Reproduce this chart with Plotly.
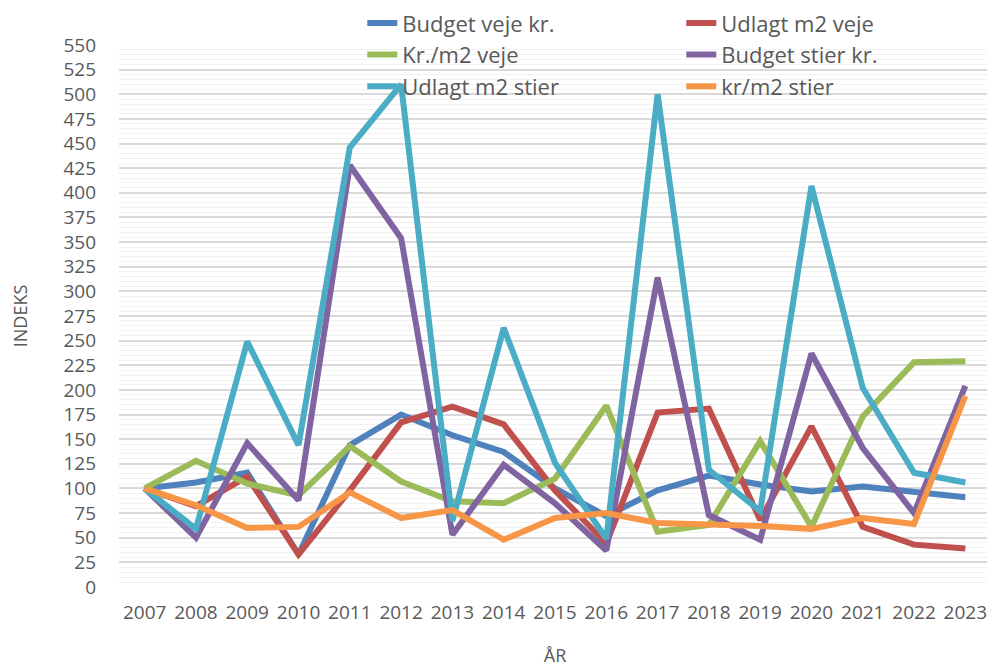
import plotly.graph_objects as go

years = ["2007", "2008", "2009", "2010", "2011", "2012", "2013", "2014", "2015",
         "2016", "2017", "2018", "2019", "2020", "2021", "2022", "2023"]

budget_veje = [100, 106, 116, 33, 144, 175, 154, 137, 100, 72, 98, 113, 104, 97, 102, 97, 91]
udlagt_veje = [100, 82, 112, 33, 98, 167, 183, 165, 98, 44, 177, 181, 68, 163, 61, 43, 39]
kr_m2_veje = [100, 128, 105, 93, 143, 107, 87, 85, 110, 184, 56, 63, 148, 61, 173, 228, 229]
budget_stier = [100, 50, 146, 88, 428, 354, 53, 124, 85, 37, 314, 73, 48, 237, 141, 75, 204]
udlagt_stier = [100, 59, 249, 144, 446, 510, 67, 263, 126, 49, 500, 119, 77, 407, 202, 116, 106]
kr_m2_stier = [100, 83, 60, 61, 96, 70, 78, 48, 70, 75, 65, 64, 62, 59, 70, 64, 194]

series_names = ["Budget veje kr.", "Udlagt m2 veje", "Kr./m2 veje",
                "Budget stier kr.", "Udlagt m2 stier", "kr/m2 stier"]
series_values = [budget_veje, udlagt_veje, kr_m2_veje, budget_stier, udlagt_stier, kr_m2_stier]
colors = ["#4F81BD", "#C0504D", "#9BBB59", "#8064A2", "#4BACC6", "#F79646"]

y_ticks = list(range(0, 551, 25))

font_family = "Open Sans, Noto Sans, sans-serif"
text_color = "#595959"

fig = go.Figure()
for name, vals, col in zip(series_names, series_values, colors):
    fig.add_trace(go.Scatter(
        x=years, y=vals, name=name, mode="lines",
        line=dict(color=col, width=6, shape="linear"),
    ))

fig.update_layout(
    width=987, height=662,
    margin=dict(l=111, r=4, t=37, b=83, autoexpand=False),
    paper_bgcolor="white", plot_bgcolor="white",
    font=dict(family=font_family, size=19, color=text_color),
    legend=dict(
        orientation="h", x=0.279, y=1.079, xanchor="left", yanchor="top",
        entrywidth=274, entrywidthmode="pixels",
        bgcolor="rgba(0,0,0,0)", font=dict(size=22, color=text_color),
        tracegroupgap=0,
    ),
    xaxis=dict(
        type="category", range=[-0.5, 16.5], showgrid=False, zeroline=False, showline=False,
        ticks="", ticklabelstandoff=12, tickfont=dict(size=19, color=text_color),
        automargin=False,
        title=dict(text="ÅR", font=dict(size=18, color=text_color), standoff=25),
    ),
    yaxis=dict(
        range=[0, 550], tickvals=y_ticks, ticktext=[str(v) for v in y_ticks],
        showgrid=True, gridcolor="#D9D9D9", gridwidth=1.5,
        zeroline=False, showline=False, ticks="",
        ticklabelstandoff=22, automargin=False,
        tickfont=dict(size=19, color=text_color),
        minor=dict(dtick=5, showgrid=True, gridcolor="#F2F2F2", gridwidth=1),
        title=dict(text="INDEKS", font=dict(size=18, color=text_color), standoff=38),
    ),
)

fig.write_html("out.html")
